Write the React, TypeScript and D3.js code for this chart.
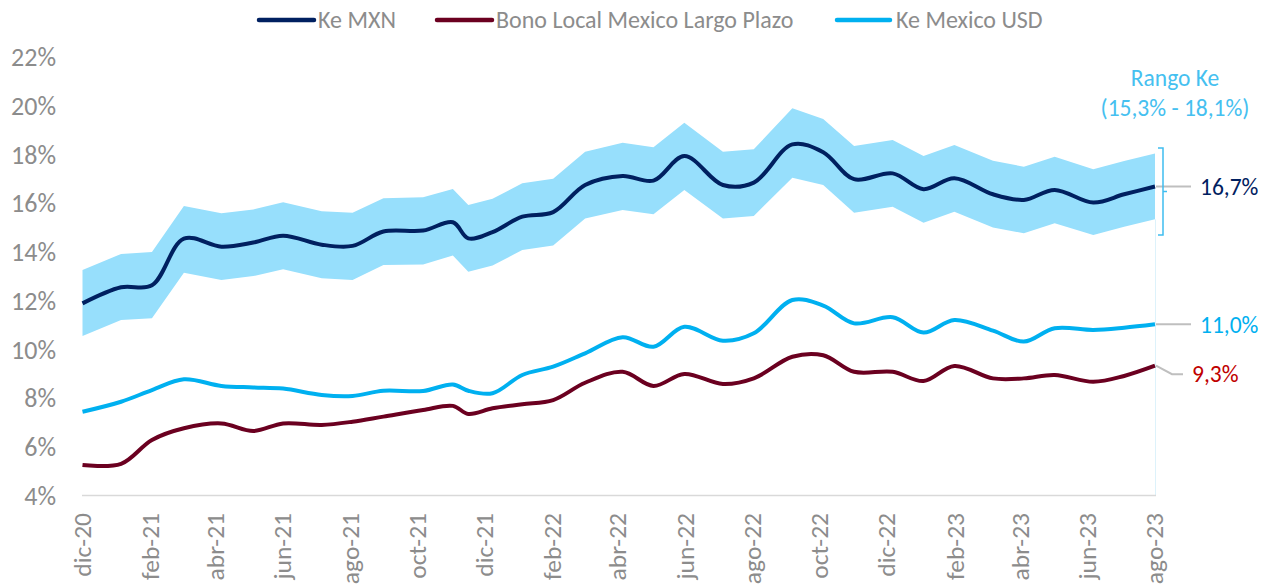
import React from "react";
import * as d3 from "d3";

const dates = [
  "2020-12-01","2021-01-05","2021-02-02","2021-03-03","2021-04-06","2021-05-05","2021-06-01","2021-07-06","2021-08-03","2021-08-31",
  "2021-10-06","2021-11-02","2021-11-16","2021-12-08","2022-01-04","2022-02-01","2022-03-02","2022-04-05","2022-05-03","2022-05-31",
  "2022-07-05","2022-08-02","2022-09-06","2022-10-04","2022-11-01","2022-12-06","2023-01-03","2023-01-31","2023-03-07","2023-04-04",
  "2023-05-02","2023-06-06","2023-07-04","2023-08-01"
];

const keMXN = [
  11.89, 12.55, 12.63, 14.55, 14.22, 14.39, 14.67, 14.30, 14.25, 14.84,
  14.88, 15.22, 14.56, 14.82, 15.45, 15.64, 16.75, 17.12, 16.93, 17.94,
  16.75, 16.85, 18.42, 18.10, 16.99, 17.23, 16.58, 17.03, 16.37, 16.14,
  16.55, 16.03, 16.37, 16.69
];

const bonoLocal = [
  5.25, 5.30, 6.28, 6.76, 6.96, 6.65, 6.96, 6.90, 7.03, 7.24,
  7.51, 7.68, 7.35, 7.58, 7.75, 7.92, 8.63, 9.08, 8.50, 8.99,
  8.58, 8.81, 9.70, 9.76, 9.08, 9.08, 8.70, 9.32, 8.81, 8.81,
  8.95, 8.67, 8.91, 9.33
];

const keUSD = [
  7.44, 7.85, 8.33, 8.77, 8.50, 8.44, 8.39, 8.13, 8.09, 8.30,
  8.29, 8.56, 8.30, 8.20, 8.95, 9.29, 9.84, 10.50, 10.11, 10.93,
  10.36, 10.66, 12.03, 11.80, 11.07, 11.32, 10.69, 11.21, 10.77, 10.32,
  10.87, 10.80, 10.89, 11.03
];

const rangeLow = [
  10.55, 11.21, 11.28, 13.15, 12.85, 13.01, 13.29, 12.92, 12.85, 13.47,
  13.49, 13.86, 13.19, 13.45, 14.08, 14.27, 15.38, 15.72, 15.55, 16.55,
  15.38, 15.48, 17.05, 16.75, 15.61, 15.86, 15.20, 15.65, 15.01, 14.77,
  15.18, 14.70, 15.04, 15.34
];

const rangeHigh = [
  13.26, 13.92, 14.00, 15.89, 15.59, 15.75, 16.04, 15.67, 15.61, 16.21,
  16.25, 16.59, 15.93, 16.19, 16.82, 17.01, 18.12, 18.49, 18.30, 19.31,
  18.12, 18.22, 19.90, 19.46, 18.35, 18.60, 17.94, 18.39, 17.75, 17.50,
  17.91, 17.40, 17.74, 18.05
];

const xTickDates = [
  "2020-12-01","2021-02-01","2021-04-01","2021-06-01","2021-08-01","2021-10-01","2021-12-01",
  "2022-02-01","2022-04-01","2022-06-01","2022-08-01","2022-10-01","2022-12-01",
  "2023-02-01","2023-04-01","2023-06-01","2023-08-01"
];
const xTickLabels = [
  "dic-20","feb-21","abr-21","jun-21","ago-21","oct-21","dic-21",
  "feb-22","abr-22","jun-22","ago-22","oct-22","dic-22",
  "feb-23","abr-23","jun-23","ago-23"
];
const yTicks = [4, 6, 8, 10, 12, 14, 16, 18, 20, 22];

const seriesNames = ["Ke MXN", "Bono Local Mexico Largo Plazo", "Ke Mexico USD"];
const seriesColors = ["#002060", "#6B0020", "#00B0F0"];
const rangeTitle = "Rango Ke";
const rangeSubtitle = "(15,3% - 18,1%)";

const FONT = "Carlito, Lato, sans-serif";
const GRAY = "#8C8C8C";

const fmt = (v: number) => v.toFixed(1).replace(".", ",") + "%";

export default function App() {
  const W = 1268, H = 587;
  const parse = d3.timeParse("%Y-%m-%d");
  const xs = dates.map((d) => parse(d) as Date);
  const x = d3
    .scaleTime()
    .domain([parse("2020-12-01") as Date, parse("2023-08-01") as Date])
    .range([82.5, 1155]);
  const y = d3.scaleLinear().domain([4, 22]).range([495.5, 57.2]);

  const curve = d3.curveCatmullRom.alpha(0.5);
  const line = (vals: number[]) =>
    d3
      .line<number>()
      .x((_, i) => x(xs[i]))
      .y((v) => y(v))
      .curve(curve)(vals) as string;

  const area = d3
    .area<number>()
    .x((_, i) => x(xs[i]))
    .y0((_, i) => y(rangeLow[i]))
    .y1((_, i) => y(rangeHigh[i]))
    .curve(d3.curveLinear)(keMXN) as string;

  const last = dates.length - 1;
  const xEnd = x(xs[last]);

  const legendItems = [
    { x1: 259, x2: 314, tx: 318 },
    { x1: 437, x2: 492, tx: 496 },
    { x1: 837, x2: 890, tx: 896 },
  ];

  const bracketTop = y(18.27);
  const bracketBot = y(14.7);
  const bracketMid = (bracketTop + bracketBot) / 2;

  return (
    <svg
      width={W}
      height={H}
      style={{ position: "absolute", left: 0, top: 0, background: "#fff" }}
      fontFamily={FONT}
    >
      {/* legend */}
      {seriesNames.map((name, i) => (
        <g key={name}>
          <line
            x1={legendItems[i].x1}
            x2={legendItems[i].x2}
            y1={20}
            y2={20}
            stroke={seriesColors[i]}
            strokeWidth={4.5}
            strokeLinecap="round"
          />
          <text x={legendItems[i].tx} y={20} dy="0.35em" fontSize={24} fill={GRAY}>
            {name}
          </text>
        </g>
      ))}

      {/* y axis labels */}
      {yTicks.map((t) => (
        <text key={t} x={56} y={y(t)} dy="0.35em" textAnchor="end" fontSize={26} fill={GRAY}>
          {t}%
        </text>
      ))}

      {/* faint right edge of area */}
      <line x1={xEnd + 0.5} x2={xEnd + 0.5} y1={y(rangeLow[last])} y2={y(4)} stroke="#DDF2FB" strokeWidth={1} />

      {/* range band */}
      <path d={area} fill="#97DFFC" />

      {/* axis line */}
      <line x1={82} x2={1156} y1={y(4)} y2={y(4)} stroke="#D9D9D9" strokeWidth={1.5} />

      {/* x labels */}
      {xTickDates.map((d, i) => {
        const px = x(parse(d) as Date);
        return (
          <text
            key={d}
            transform={`translate(${px},${513}) rotate(-90)`}
            dy="0.32em"
            textAnchor="end"
            fontSize={25.5}
            fill={GRAY}
          >
            {xTickLabels[i]}
          </text>
        );
      })}

      {/* lines */}
      <path d={line(bonoLocal)} fill="none" stroke={seriesColors[1]} strokeWidth={4} strokeLinejoin="round" />
      <path d={line(keUSD)} fill="none" stroke={seriesColors[2]} strokeWidth={4} strokeLinejoin="round" />
      <path d={line(keMXN)} fill="none" stroke={seriesColors[0]} strokeWidth={4} strokeLinejoin="round" />

      {/* leader lines */}
      <line x1={xEnd + 1} x2={1191} y1={y(keMXN[last])} y2={y(keMXN[last])} stroke="#BFBFBF" strokeWidth={2} />
      <line x1={xEnd + 1} x2={1191} y1={y(keUSD[last])} y2={y(keUSD[last])} stroke="#BFBFBF" strokeWidth={2} />
      <polyline
        points={`${xEnd + 1},${y(bonoLocal[last])} ${xEnd + 17},${y(bonoLocal[last]) + 8.5} ${1183},${y(bonoLocal[last]) + 8.5}`}
        fill="none"
        stroke="#BFBFBF"
        strokeWidth={2}
      />

      {/* end labels */}
      <text x={1200} y={y(keMXN[last])} dy="0.35em" fontSize={23.5} fill="#002060">
        {fmt(keMXN[last])}
      </text>
      <text x={1200} y={y(keUSD[last])} dy="0.35em" fontSize={23.5} fill="#00B0F0">
        {fmt(keUSD[last])}
      </text>
      <text x={1192} y={y(bonoLocal[last]) + 8.5} dy="0.35em" fontSize={23.5} fill="#C00000">
        {fmt(bonoLocal[last])}
      </text>

      {/* bracket */}
      <path
        d={`M${xEnd + 3},${bracketTop} H${xEnd + 8} V${bracketBot} H${xEnd + 3} M${xEnd + 8},${bracketMid} H${xEnd + 12}`}
        fill="none"
        stroke="#3FBDF0"
        strokeWidth={1.5}
      />

      {/* range annotation */}
      <text x={1175} y={78} dy="0.35em" textAnchor="middle" fontSize={23.5} fill="#45C0F0">
        {rangeTitle}
      </text>
      <text x={1175} y={108} dy="0.35em" textAnchor="middle" fontSize={23.5} fill="#45C0F0">
        {rangeSubtitle}
      </text>
    </svg>
  );
}
